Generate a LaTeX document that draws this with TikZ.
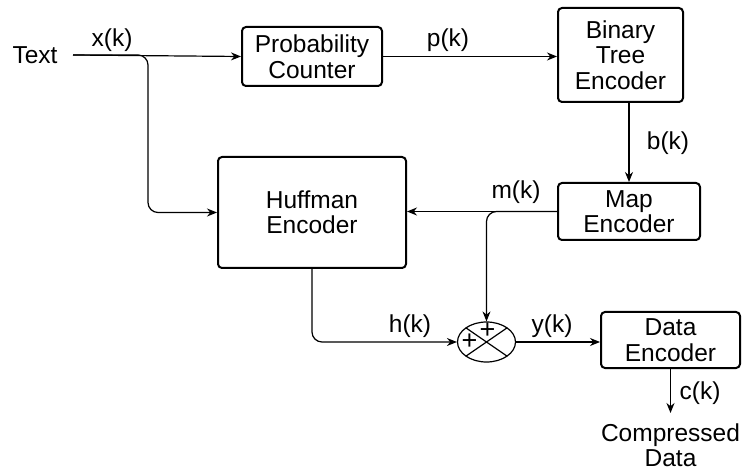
\documentclass[tikz,border=0pt]{standalone}
\usepackage{fontspec}
\setmainfont{Liberation Sans}
\usetikzlibrary{shapes.geometric,calc,arrows.meta}
\begin{document}
\begin{tikzpicture}[x=1pt,y=-1pt,
  every node/.style={font=\fontsize{24.5}{25.5}\selectfont},
  blk/.style={draw,line width=2pt,rounded corners=4pt,align=center,inner sep=0pt},
  conn/.style={line width=1.2pt,-{Stealth[length=10pt,width=8pt]}},
  lbl/.style={inner sep=0pt},
  plus/.style={inner sep=0pt,font=\fontsize{27}{27}\selectfont}]
\useasboundingbox (0,0) rectangle (745,473);
\node[lbl] (txt) at (35,55) {Text};
\coordinate (xin) at (73,55);
\coordinate (xb) at (148,55);
\node[blk,minimum width=140pt,minimum height=59pt] (prob) at (312,56.5) {Probability\\Counter};
\node[blk,minimum width=125pt,minimum height=94pt] (bin) at (620.5,55) {Binary\\Tree\\Encoder};
\node[blk,minimum width=188pt,minimum height=111pt] (huff) at (312,212.5) {Huffman\\Encoder};
\node[blk,minimum width=142pt,minimum height=57pt] (map) at (629,211.5) {Map\\Encoder};
\node[blk,minimum width=139pt,minimum height=56pt] (data) at (670.5,340) {Data\\Encoder};
\node[draw,ellipse,line width=1.2pt,minimum width=58pt,minimum height=40pt,inner sep=0pt] (sum) at (486.5,342) {};
\draw[line width=1.2pt] ($(sum.center)+(-20.5,-14.1)$) -- ($(sum.center)+(20.5,14.1)$);
\draw[line width=1.2pt] ($(sum.center)+(-20.5,14.1)$) -- ($(sum.center)+(20.5,-14.1)$);
\node[plus] (pl) at ($(sum.center)+(-17,0)$) {+};
\node[plus] (pt) at ($(sum.center)+(1,-11)$) {+};
\coordinate (cout) at (670.5,413);
\node[lbl,align=center] (comp) at (670.5,445) {Compressed\\Data};
% connectors
\draw[conn] (xin) -- (prob.west);
\draw[conn,rounded corners=10pt] (xin) -- (xb) |- (huff.west);
\draw[conn] (prob.east) -- (bin.west |- prob.east);
\draw[conn] (map.north |- bin.south) -- (map.north);
\draw[conn] (map.west) -- (huff.east |- map.west);
\draw[conn,rounded corners=10pt] (map.west) -| (sum.north);
\draw[conn,rounded corners=10pt] (huff.south) |- (sum.west);
\draw[conn] (sum.east) -- (data.west |- sum.east);
\draw[conn] (data.south) -- (cout);
% labels
\node[lbl] (lx) at (112,40) {x(k)};
\node[lbl] (lp) at (448,40) {p(k)};
\node[lbl] (lb) at (668,143) {b(k)};
\node[lbl] (lm) at (516,192) {m(k)};
\node[lbl] (lh) at (410,326) {h(k)};
\node[lbl] (ly) at (552,326) {y(k)};
\node[lbl] (lc) at (700,393) {c(k)};
\end{tikzpicture}
\end{document}
